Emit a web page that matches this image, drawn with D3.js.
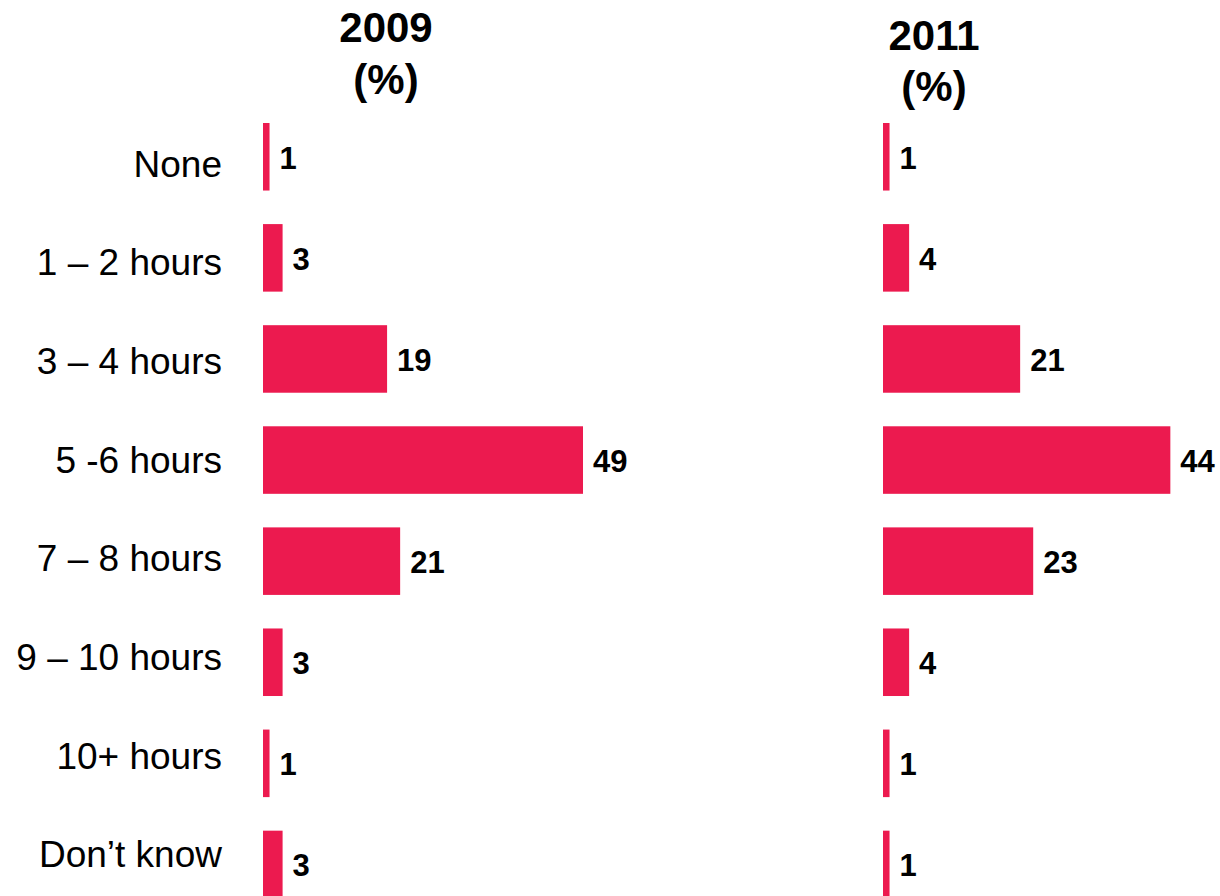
<!DOCTYPE html>
<html>
<head>
<meta charset="utf-8">
<script src="https://cdn.jsdelivr.net/npm/d3@7"></script>
<style>
  html, body { margin: 0; padding: 0; background: #ffffff; }
  svg { display: block; font-family: Arial, "Liberation Sans", sans-serif; }
</style>
</head>
<body>
<svg id="chart" width="1220" height="896"></svg>
<script>
const categories = ["None", "1 \u2013 2 hours", "3 \u2013 4 hours", "5 -6 hours", "7 \u2013 8 hours", "9 \u2013 10 hours", "10+ hours", "Don\u2019t know"];
const values2009 = [1, 3, 19, 49, 21, 3, 1, 3];
const values2011 = [1, 4, 21, 44, 23, 4, 1, 1];
const panelTitles = [["2009", "(%)"], ["2011", "(%)"]];

const svg = d3.select("#chart");
const color = "#EC1A4F";

const y = d3.scaleBand()
  .domain(categories)
  .range([123, 898.2])
  .paddingInner(0.332)
  .paddingOuter(0);

// category labels sit on a slightly tighter spacing than the bars
const yLabel = d3.scalePoint()
  .domain(categories)
  .range([164, 854.7]);

const x = d3.scaleLinear().domain([0, 49]).range([0, 320]);

// category labels
svg.append("g").selectAll("text")
  .data(categories)
  .join("text")
  .attr("x", 222)
  .attr("y", d => yLabel(d))
  .attr("text-anchor", "end")
  .attr("dominant-baseline", "central")
  .attr("font-size", 37)
  .attr("fill", "#000")
  .text(d => d);

const panels = [
  { values: values2009, x0: 263, title: panelTitles[0], tx: 386, ty: [41.5, 94] },
  { values: values2011, x0: 883, title: panelTitles[1], tx: 934, ty: [50, 101] }
];

panels.forEach(p => {
  const g = svg.append("g").attr("transform", `translate(${p.x0},0)`);
  g.selectAll("rect")
    .data(p.values)
    .join("rect")
    .attr("x", 0)
    .attr("y", (d, i) => y(categories[i]))
    .attr("width", d => x(d))
    .attr("height", y.bandwidth())
    .attr("fill", color);
  g.selectAll("text.val")
    .data(p.values)
    .join("text")
    .attr("class", "val")
    .attr("x", d => x(d) + 10)
    .attr("y", (d, i) => y(categories[i]) + y.bandwidth() / 2 + 1.5)
    .attr("dominant-baseline", "central")
    .attr("font-size", 31)
    .attr("font-weight", "bold")
    .attr("fill", "#000")
    .text(d => d);
  svg.append("g").selectAll("text")
    .data(p.title)
    .join("text")
    .attr("x", p.tx)
    .attr("y", (d, i) => p.ty[i])
    .attr("text-anchor", "middle")
    .attr("font-size", 42)
    .attr("font-weight", "bold")
    .attr("fill", "#000")
    .text(d => d);
});
</script>
</body>
</html>
